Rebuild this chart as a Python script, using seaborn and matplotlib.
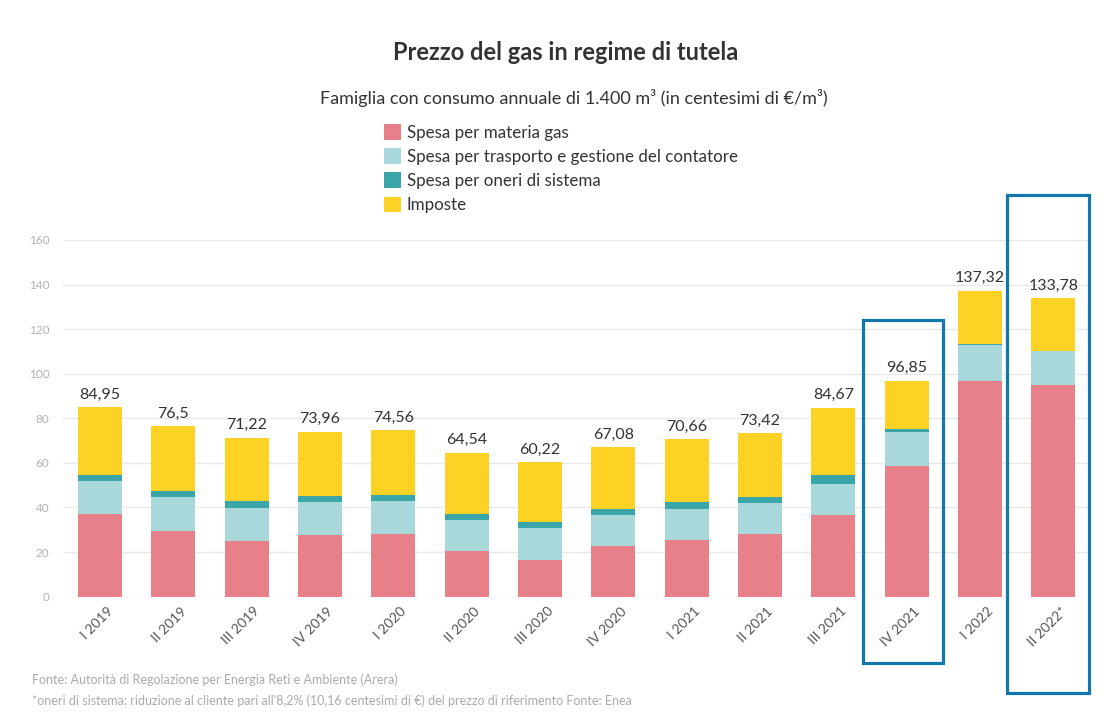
import matplotlib
matplotlib.use("Agg")
import matplotlib.pyplot as plt
import matplotlib.transforms as mtransforms
import seaborn as sns
import numpy as np
from matplotlib.patches import Patch, Rectangle

# === DATI ===
periodi = ["I 2019", "II 2019", "III 2019", "IV 2019", "I 2020", "II 2020", "III 2020",
           "IV 2020", "I 2021", "II 2021", "III 2021", "IV 2021", "I 2022", "II 2022*"]
totali = [84.95, 76.5, 71.22, 73.96, 74.56, 64.54, 60.22, 67.08, 70.66, 73.42, 84.67, 96.85, 137.32, 133.78]
materia_gas = [37.1, 29.6, 25.0, 27.5, 28.3, 20.4, 16.5, 22.7, 25.6, 28.1, 36.6, 58.8, 96.8, 94.8]
trasporto = [14.9, 15.0, 14.9, 15.0, 14.8, 14.0, 14.3, 14.0, 13.9, 13.8, 14.0, 15.2, 16.0, 15.6]
oneri = [2.5, 3.0, 3.0, 2.8, 2.7, 2.8, 2.9, 2.8, 2.8, 3.0, 3.9, 1.1, 0.7, 0.0]
# imposte = totale - altre voci
imposte = [round(t - m - tr - o, 2) for t, m, tr, o in zip(totali, materia_gas, trasporto, oneri)]

etichette_legenda = ["Spesa per materia gas", "Spesa per trasporto e gestione del contatore",
                     "Spesa per oneri di sistema", "Imposte"]
colori = ["#e8808a", "#a9d8da", "#3aa6a8", "#fed224"]

# periodi evidenziati con riquadro blu
evidenziati = ["IV 2021", "II 2022*"]

sns.set_theme(style="white")
plt.rcParams["font.family"] = ["Lato", "DejaVu Sans"]

fig = plt.figure(figsize=(11.09, 7.25), dpi=100)
ax = fig.add_axes([0.057, 0.177, 0.926, 0.492])

# stacking: si disegnano le somme cumulative dalla più alta alla più bassa
strati = [materia_gas, trasporto, oneri, imposte]
cumul = np.cumsum(np.array(strati), axis=0)
for i in range(len(strati) - 1, -1, -1):
    sns.barplot(x=periodi, y=cumul[i], color=colori[i], width=0.6, saturation=1,
                edgecolor="none", linewidth=0, ax=ax)

# etichette totali
for i, t in enumerate(totali):
    txt = f"{t:.2f}".rstrip("0").rstrip(".").replace(".", ",")
    ax.text(i, t + 2.5, txt, ha="center", va="bottom", fontsize=11.5, color="#333333")

ax.set_ylim(0, 160)
ax.set_yticks(range(0, 161, 20))
ax.grid(axis="y", color="#e9e9e9", linewidth=1)
ax.set_axisbelow(True)
sns.despine(ax=ax, left=True, bottom=True)
ax.set_xlabel("")
ax.set_ylabel("")
ax.tick_params(axis="y", labelsize=8.5, labelcolor="#b3b3b3", length=0, pad=10)
ax.tick_params(axis="x", labelsize=10, labelcolor="#555555", length=0, pad=6)
spost = mtransforms.ScaledTranslation(0.07, 0, fig.dpi_scale_trans)
for lab in ax.get_xticklabels():
    lab.set_rotation(45)
    lab.set_ha("right")
    lab.set_rotation_mode("anchor")
    lab.set_transform(lab.get_transform() + spost)

# riquadri blu
offsets = {"IV 2021": (-0.6, 0.5, -29.8, 124.1), "II 2022*": (-0.64, 0.48, -43.2, 180.2)}
for p in evidenziati:
    i = periodi.index(p)
    x0, x1, y0, y1 = offsets[p]
    ax.add_patch(Rectangle((i + x0, y0), x1 - x0, y1 - y0, fill=False,
                           edgecolor="#1178ae", linewidth=2.3, clip_on=False, zorder=5))

# titolo e sottotitolo
fig.text(0.51, 0.928, "Prezzo del gas in regime di tutela", ha="center", va="center",
         fontsize=17, fontweight="bold", color="#333333")
fig.text(0.517, 0.865, "Famiglia con consumo annuale di 1.400 m³ (in centesimi di €/m³)",
         ha="center", va="center", fontsize=13, color="#333333")

handles = [Patch(facecolor=c, edgecolor="none") for c in colori]
fig.legend(handles, etichette_legenda, loc="upper left", bbox_to_anchor=(0.3385, 0.84),
           frameon=False, fontsize=12.2, handlelength=1.0, handleheight=1.0,
           handletextpad=0.35, labelspacing=0.45, borderpad=0, labelcolor="#333333")

# note
fig.text(0.029, 0.062, "Fonte: Autorità di Regolazione per Energia Reti e Ambiente (Arera)",
         fontsize=9, color="#ababab", va="center")
fig.text(0.029, 0.034, "*oneri di sistema: riduzione al cliente pari all'8,2% (10,16 centesimi di €) "
         "del prezzo di riferimento Fonte: Enea", fontsize=9, color="#ababab", va="center")

fig.savefig("out.png", dpi=100)
